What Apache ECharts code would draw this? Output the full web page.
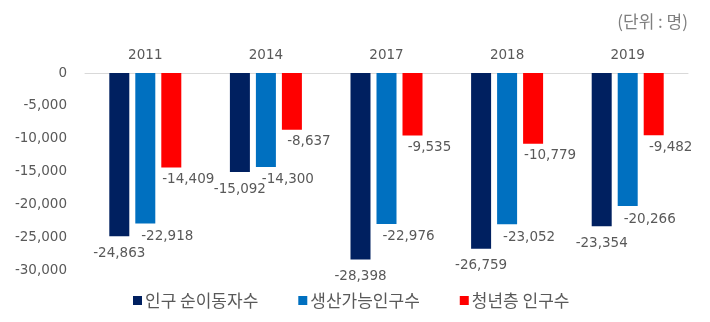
<!DOCTYPE html>
<html>
<head>
<meta charset="utf-8">
<script src="https://cdn.jsdelivr.net/npm/echarts@6/dist/echarts.min.js"></script>
<style>
  html, body { margin: 0; padding: 0; background: #fff; }
  #chart { width: 710px; height: 322px; }
</style>
</head>
<body>
<div id="chart"></div>
<script>
// Years shown along the top axis
const years = ['2011', '2014', '2017', '2018', '2019'];

// Net migration counts per year (persons)
const netMigration = [-24863, -15092, -28398, -26759, -23354];
const workingAge = [-22918, -14300, -22976, -23052, -20266];
const youth = [-14409, -8637, -9535, -10779, -9482];

const seriesNames = ['인구 순이동자수', '생산가능인구수', '청년층 인구수'];
const unitText = '(단위 : 명)';

const textColor = '#595959';
const numFont = 'DejaVu Sans';
const krFont = '"Noto Sans CJK KR", "DejaVu Sans"';

const fmt = v => v.toLocaleString('en-US');

function barSeries(name, values, color, offset) {
  return {
    name: name,
    type: 'bar',
    data: values,
    barWidth: 20,
    barGap: '30%',
    itemStyle: { color: color },
    label: {
      show: true,
      position: 'bottom',
      distance: 5,
      offset: offset,
      color: textColor,
      fontFamily: numFont,
      fontSize: 13.5,
      formatter: p => fmt(p.value)
    }
  };
}

const chart = echarts.init(document.getElementById('chart'), null, { renderer: 'canvas' });
chart.setOption({
  animation: false,
  backgroundColor: '#fff',
  grid: { left: 85, right: 22, top: 73, bottom: 52 },
  graphic: [{
    type: 'text',
    right: 22,
    top: 13,
    style: {
      text: unitText,
      fill: '#7f7f7f',
      font: '17px ' + krFont
    }
  }],
  legend: {
    left: 128,
    top: 287,
    itemWidth: 9,
    itemHeight: 9,
    itemGap: 40,
    icon: 'rect',
    data: seriesNames,
    textStyle: { color: textColor, fontFamily: krFont, fontSize: 17, padding: [0, 0, 0, -2] }
  },
  xAxis: {
    type: 'category',
    position: 'top',
    data: years,
    axisLine: { show: true, lineStyle: { color: '#d9d9d9', width: 1 } },
    axisTick: { show: false },
    axisLabel: { color: textColor, fontFamily: numFont, fontSize: 13.5, margin: 11 }
  },
  yAxis: {
    type: 'value',
    min: -30000,
    max: 0,
    interval: 5000,
    axisLine: { show: false },
    axisTick: { show: false },
    splitLine: { show: false },
    axisLabel: {
      color: textColor,
      fontFamily: numFont,
      fontSize: 13.5,
      margin: 18,
      formatter: v => fmt(v)
    }
  },
  series: [
    barSeries(seriesNames[0], netMigration, '#002060', [0, 5]),
    barSeries(seriesNames[1], workingAge, '#0070C0', [22, 1]),
    barSeries(seriesNames[2], youth, '#FF0000', [17, 0])
  ]
});
</script>
</body>
</html>
